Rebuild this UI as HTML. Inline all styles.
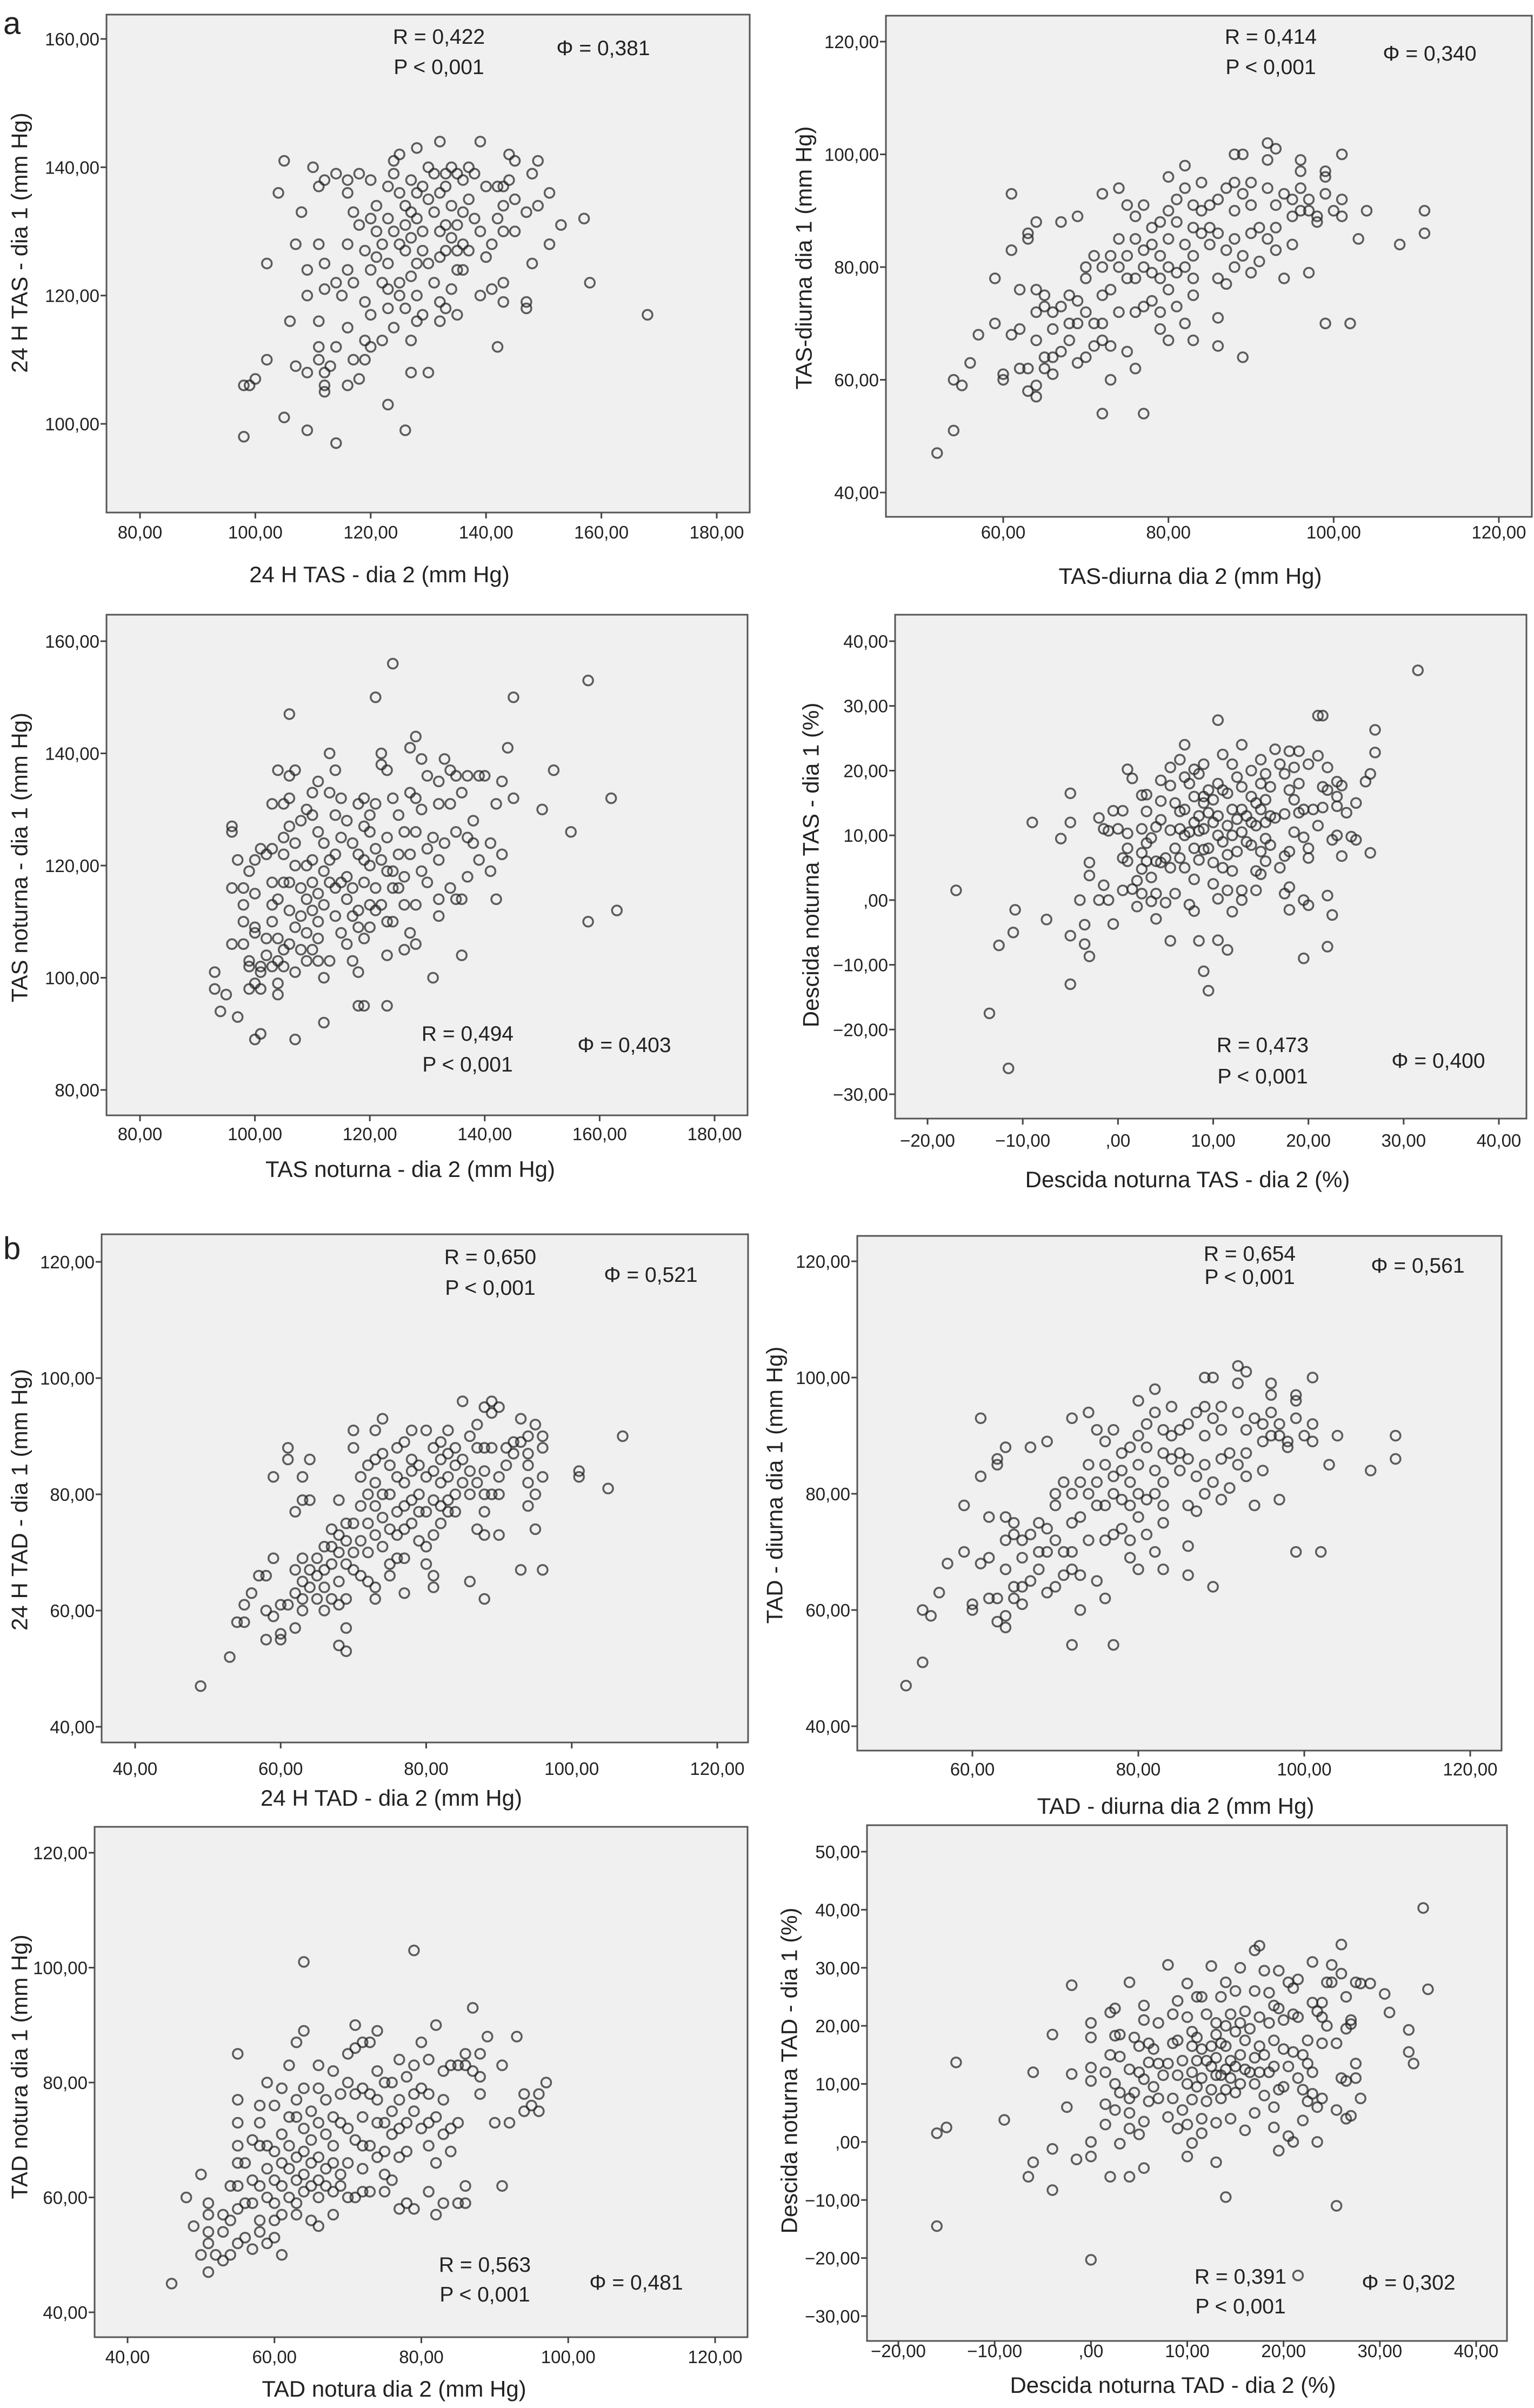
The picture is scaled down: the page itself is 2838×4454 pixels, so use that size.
<!DOCTYPE html>
<html><head><meta charset="utf-8"><style>
html,body{margin:0;padding:0;background:#fff}
svg{display:block}
text{font-family:"Liberation Sans",Arial,sans-serif;fill:#222}
</style></head><body>
<svg id="fig" width="2838" height="4454" viewBox="0 0 2838 4454" xmlns="http://www.w3.org/2000/svg">
<text x="6" y="63" font-size="58">a</text>
<text x="6" y="2329" font-size="58">b</text>
</svg>
<script>
const p1Points=[[98,98],[98,106],[99,106],[100,107],[102,110],[102,125],[104,136],[105,141],[105,101],[106,116],[107,109],[107,128],[108,133],[109,108],[109,124],[109,120],[109,99],[110,140],[111,137],[111,128],[111,116],[111,112],[111,110],[112,138],[112,125],[112,121],[112,108],[112,106],[112,105],[113,109],[114,139],[114,97],[114,112],[114,122],[115,120],[116,138],[116,136],[116,128],[116,124],[116,115],[116,106],[117,133],[117,110],[117,122],[118,107],[118,139],[118,131],[119,127],[119,113],[119,110],[119,119],[120,138],[120,132],[120,124],[120,117],[120,112],[121,130],[121,126],[121,134],[122,128],[122,122],[122,113],[123,137],[123,132],[123,125],[123,121],[123,103],[123,118],[124,141],[124,139],[124,130],[124,115],[125,142],[125,136],[125,128],[125,122],[125,120],[126,134],[126,131],[126,127],[126,118],[126,99],[127,138],[127,133],[127,129],[127,123],[127,113],[127,108],[128,143],[128,136],[128,132],[128,125],[128,120],[128,116],[129,137],[129,130],[129,127],[129,117],[130,135],[130,140],[130,125],[130,108],[131,139],[131,133],[131,122],[132,144],[132,136],[132,130],[132,126],[132,119],[132,116],[133,139],[133,137],[133,131],[133,127],[133,118],[134,140],[134,134],[134,129],[134,121],[135,139],[135,131],[135,127],[135,124],[135,117],[136,138],[136,133],[136,128],[136,124],[137,140],[137,135],[137,127],[138,139],[138,132],[139,144],[139,130],[139,120],[140,137],[140,126],[141,128],[141,121],[142,137],[142,132],[142,112],[143,137],[143,134],[143,130],[143,122],[143,119],[144,142],[144,138],[145,141],[145,135],[145,130],[147,133],[147,119],[147,118],[148,139],[148,125],[149,134],[149,141],[151,136],[151,128],[153,131],[157,132],[158,122],[168,117]];
const p2Points=[[52,47],[54,51],[54,60],[55,59],[56,63],[57,68],[59,70],[59,78],[60,60],[60,61],[61,68],[61,83],[61,93],[62,69],[62,76],[62,62],[63,62],[63,58],[63,85],[63,86],[64,59],[64,57],[64,88],[64,76],[64,72],[64,67],[65,75],[65,73],[65,64],[65,62],[66,61],[66,69],[66,72],[66,64],[67,65],[67,73],[67,88],[68,70],[68,75],[68,67],[69,89],[69,63],[69,74],[69,70],[70,80],[70,78],[70,72],[70,64],[71,82],[71,70],[71,66],[72,93],[72,80],[72,75],[72,70],[72,67],[72,54],[73,82],[73,76],[73,60],[73,66],[74,94],[74,85],[74,80],[74,72],[75,91],[75,82],[75,78],[75,65],[76,89],[76,85],[76,78],[76,72],[76,62],[77,91],[77,83],[77,80],[77,73],[77,54],[78,87],[78,84],[78,79],[78,74],[79,88],[79,82],[79,78],[79,72],[79,69],[80,96],[80,90],[80,85],[80,80],[80,76],[80,67],[81,92],[81,88],[81,79],[81,73],[82,98],[82,94],[82,84],[82,80],[82,70],[83,91],[83,87],[83,82],[83,78],[83,75],[83,67],[84,95],[84,90],[84,86],[85,91],[85,87],[85,84],[86,92],[86,86],[86,78],[86,71],[86,66],[87,94],[87,83],[87,77],[88,100],[88,95],[88,90],[88,85],[88,80],[89,100],[89,93],[89,64],[89,82],[90,95],[90,91],[90,86],[90,79],[91,87],[91,81],[92,102],[92,99],[92,94],[92,85],[93,101],[93,91],[93,87],[93,83],[94,93],[94,78],[95,92],[95,89],[95,84],[96,99],[96,97],[96,94],[96,90],[97,92],[97,90],[97,79],[98,89],[98,88],[99,97],[99,96],[99,93],[99,70],[100,90],[101,100],[101,92],[101,89],[102,70],[103,85],[104,90],[108,84],[111,90],[111,86]];
const p3Points=[[93,101],[93,98],[94,94],[95,97],[96,127],[96,126],[96,116],[96,106],[97,121],[97,93],[98,116],[98,113],[98,110],[98,106],[99,119],[99,103],[99,102],[99,98],[100,121],[100,115],[100,109],[100,108],[100,99],[100,89],[101,123],[101,102],[101,101],[101,98],[101,90],[102,122],[102,107],[102,104],[103,131],[103,123],[103,117],[103,113],[103,110],[103,102],[104,137],[104,114],[104,107],[104,103],[104,99],[104,97],[105,131],[105,125],[105,122],[105,117],[105,105],[105,102],[106,147],[106,136],[106,132],[106,127],[106,117],[106,112],[106,106],[107,137],[107,124],[107,120],[107,109],[107,101],[107,89],[108,128],[108,116],[108,111],[108,105],[109,130],[109,120],[109,114],[109,108],[109,103],[110,133],[110,129],[110,121],[110,117],[110,112],[110,105],[111,135],[111,126],[111,115],[111,110],[111,107],[111,103],[112,124],[112,119],[112,113],[112,100],[112,92],[113,140],[113,133],[113,121],[113,117],[113,103],[114,137],[114,129],[114,122],[114,116],[114,111],[115,132],[115,125],[115,117],[115,108],[116,128],[116,118],[116,114],[116,106],[117,124],[117,116],[117,111],[117,103],[118,131],[118,122],[118,112],[118,109],[118,101],[118,95],[119,132],[119,127],[119,121],[119,117],[119,107],[119,95],[120,129],[120,126],[120,120],[120,113],[120,109],[121,150],[121,131],[121,123],[121,116],[121,112],[122,140],[122,138],[122,121],[122,113],[123,137],[123,125],[123,119],[123,110],[123,104],[123,95],[124,156],[124,132],[124,119],[124,116],[124,110],[125,129],[125,122],[125,116],[126,126],[126,118],[126,113],[126,105],[127,141],[127,133],[127,122],[127,108],[128,143],[128,132],[128,126],[128,113],[128,106],[129,139],[129,130],[129,119],[130,136],[130,123],[130,117],[131,125],[131,100],[132,135],[132,131],[132,121],[132,114],[132,111],[133,139],[133,124],[134,137],[134,131],[134,116],[135,136],[135,126],[135,114],[136,133],[136,114],[136,104],[137,136],[137,125],[137,118],[138,128],[138,124],[139,136],[139,121],[140,136],[141,124],[141,119],[142,131],[142,114],[143,135],[143,122],[144,141],[145,150],[145,132],[150,130],[152,137],[155,126],[158,153],[158,110],[162,132],[163,112]];
const p4Points=[[-17,1.5],[-13.5,-17.5],[-12.5,-7],[-11.5,-26],[-11,-5],[-10.8,-1.5],[-9,12],[-7.5,-3],[-6,9.5],[-5,16.5],[-5,12],[-5,-5.5],[-5,-13],[-4,0],[-3.5,-3.8],[-3.5,-6.8],[-3,-8.7],[-3,5.8],[-3,3.8],[-2,12.7],[-2,0],[-1.5,11],[-1.5,2.3],[-1,10.7],[-1,0],[-0.5,-3.7],[-0.5,13.8],[0,11],[0.5,13.8],[0.5,6.5],[0.5,1.5],[1,20.2],[1,8],[1,6],[1,10.3],[1.5,1.7],[1.5,18.8],[2,3],[2,-1],[2.5,16.2],[2.5,11],[2.5,7.3],[2.5,4.8],[2.5,1],[3,16.3],[3,13.7],[3,8.8],[3,6],[3.5,9.6],[3.5,3.5],[3.5,-0.2],[4,11.3],[4,6],[4,1],[4,-2.9],[4.5,18.5],[4.5,15.3],[4.5,12.4],[4.5,5.8],[5,6.5],[5,-0.4],[5.5,20.5],[5.5,17.7],[5.5,10.8],[5.5,5],[5.5,-6.3],[6,15],[6,8],[6,1],[6.5,21.7],[6.5,13.7],[6.5,11],[6.5,6.5],[7,24],[7,19],[7,14],[7,10],[7,5],[7.5,18],[7.5,10.5],[7.5,-0.7],[8,20.2],[8,16],[8,12],[8,8],[8,3.2],[8,-1.7],[8.5,19.5],[8.5,13],[8.5,10.7],[8.5,6.2],[8.5,-6.3],[9,21],[9,16],[9,15],[9,11],[9,7.8],[9,-11],[9.5,17],[9.5,13.5],[9.5,8],[9.5,-14],[10,15.5],[10,12],[10,5.8],[10,2.5],[10.5,27.8],[10.5,18],[10.5,13],[10.5,10],[10.5,-6.2],[10.5,0.2],[11,22.5],[11,17],[11,9],[11,5],[11.5,16.5],[11.5,11.5],[11.5,7],[11.5,1.5],[11.5,-7.7],[12,21],[12,14],[12,10],[12,4.5],[12,-1.8],[12.5,19],[12.5,12.5],[12.5,7.5],[13,24],[13,17.5],[13,14],[13,10.5],[13,1.5],[13,0],[13.5,13],[13.5,9],[14,20],[14,16],[14,12],[14,8.5],[14.5,15],[14.5,11.5],[14.5,4.5],[14.5,1.5],[15,21.7],[15,18],[15,14],[15,7.5],[15,4],[15.5,19.5],[15.5,15.5],[15.5,12],[15.5,9.5],[15.5,6],[16,17.5],[16,13],[16,8.5],[16.5,23.3],[16.5,12.7],[17,5],[17,21],[17.5,19.5],[17.5,13.3],[17.5,6.8],[17.5,1],[18,23],[18,17],[18,7.5],[18,2],[18,-1.5],[18.5,20.5],[18.5,15.5],[18.5,10.5],[19,23],[19,18],[19,13.5],[19.5,14],[19.5,9.7],[19.5,0],[19.5,-9],[20,21],[20,8],[20,6.5],[20,-0.8],[20.5,14],[21,28.5],[21,22.3],[21,11.5],[21.5,28.5],[21.5,17.5],[21.5,14.3],[22,20.5],[22,17],[22,0.7],[22,-7.2],[22.5,9.3],[22.5,-2.3],[23,18.3],[23,14.5],[23,16],[23,10],[23.5,6.8],[23.5,17.7],[24,13.5],[24.5,9.8],[25,15],[25,9.3],[26,18.3],[26.5,19.5],[26.5,7.3],[27,26.3],[27,22.8],[31.5,35.5]];
const p5Points=[[49,47],[53,52],[54,58],[55,58],[55,61],[56,63],[57,66],[58,66],[58,60],[58,55],[59,59],[59,69],[59,83],[60,56],[60,55],[60,61],[61,88],[61,86],[61,61],[62,77],[62,67],[62,57],[62,63],[63,79],[63,83],[63,69],[63,65],[63,62],[63,60],[64,86],[64,79],[64,67],[64,64],[65,69],[65,66],[65,62],[66,71],[66,67],[66,64],[66,60],[67,74],[67,71],[67,68],[67,62],[68,79],[68,73],[68,70],[68,65],[68,61],[68,54],[69,75],[69,72],[69,68],[69,62],[69,57],[69,53],[70,91],[70,88],[70,75],[70,70],[70,67],[71,83],[71,78],[71,72],[71,66],[72,85],[72,80],[72,75],[72,70],[72,65],[73,91],[73,86],[73,82],[73,78],[73,73],[73,64],[73,62],[74,93],[74,87],[74,80],[74,76],[74,71],[75,85],[75,80],[75,74],[75,68],[75,66],[76,88],[76,83],[76,77],[76,73],[76,69],[77,89],[77,82],[77,78],[77,74],[77,69],[77,63],[78,91],[78,86],[78,84],[78,79],[78,75],[79,85],[79,80],[79,77],[79,72],[80,91],[80,83],[80,77],[80,71],[80,68],[81,88],[81,84],[81,79],[81,73],[81,66],[81,64],[82,89],[82,86],[82,82],[82,78],[82,75],[83,91],[83,87],[83,83],[83,79],[83,77],[84,88],[84,85],[84,80],[84,77],[85,96],[85,86],[85,82],[86,90],[86,84],[86,80],[86,65],[87,92],[87,88],[87,82],[87,74],[88,95],[88,88],[88,84],[88,80],[88,77],[88,73],[88,62],[89,96],[89,94],[89,88],[89,80],[90,95],[90,83],[90,80],[90,73],[91,88],[91,85],[92,89],[92,87],[93,93],[93,89],[93,67],[94,90],[94,87],[94,85],[94,82],[94,78],[95,92],[95,80],[95,74],[96,90],[96,88],[96,83],[96,67],[101,84],[101,83],[105,81],[107,90]];
const p6Points=p2Points.map(p=>[p[0],p[1]]);
const p7Points=[[46,45],[48,60],[49,55],[50,64],[50,50],[51,59],[51,57],[51,54],[51,52],[51,47],[52,50],[53,57],[53,54],[53,49],[54,62],[54,56],[54,50],[55,85],[55,77],[55,73],[55,69],[55,66],[55,62],[55,58],[55,52],[56,66],[56,59],[56,53],[57,70],[57,63],[57,59],[57,51],[58,76],[58,73],[58,69],[58,62],[58,56],[58,54],[59,80],[59,69],[59,65],[59,60],[59,52],[60,76],[60,68],[60,63],[60,59],[60,56],[60,53],[61,79],[61,71],[61,66],[61,62],[61,57],[61,50],[62,83],[62,74],[62,69],[62,65],[62,60],[63,87],[63,77],[63,74],[63,67],[63,63],[63,59],[63,57],[64,101],[64,89],[64,79],[64,72],[64,68],[64,64],[64,61],[65,75],[65,70],[65,66],[65,62],[65,56],[66,83],[66,79],[66,73],[66,67],[66,63],[66,60],[66,55],[67,77],[67,71],[67,65],[67,62],[68,82],[68,74],[68,69],[68,66],[68,61],[68,57],[69,78],[69,73],[69,64],[69,62],[70,85],[70,80],[70,72],[70,66],[70,60],[71,90],[71,86],[71,78],[71,70],[71,60],[72,87],[72,79],[72,74],[72,69],[72,65],[72,61],[73,87],[73,78],[73,69],[73,61],[74,89],[74,82],[74,77],[74,73],[74,67],[75,80],[75,73],[75,68],[75,64],[75,61],[76,80],[76,75],[76,71],[76,63],[77,84],[77,77],[77,72],[77,67],[77,58],[78,81],[78,73],[78,68],[78,59],[79,103],[79,83],[79,78],[79,75],[79,58],[80,87],[80,79],[80,72],[81,84],[81,78],[81,73],[81,69],[81,61],[82,90],[82,74],[82,66],[82,57],[83,82],[83,77],[83,71],[83,59],[84,83],[84,72],[84,68],[85,83],[85,73],[85,59],[86,85],[86,83],[86,62],[86,59],[87,93],[87,82],[88,85],[88,81],[88,78],[89,88],[90,73],[91,83],[91,62],[92,73],[93,88],[94,78],[94,75],[95,76],[96,78],[96,75],[97,80]];
const p8Points=[[-16,1.5],[-16,-14.5],[-15,2.5],[-14,13.7],[-9,3.8],[-6.5,-6],[-6,12],[-6,-3.5],[-4,18.5],[-4,-1.2],[-4,-8.3],[-2.5,6],[-2,27],[-2,11.7],[-1.5,-3],[0,20.5],[0,18],[0,12.8],[0,10.5],[0,0],[0,-2.5],[0,-20.3],[1.5,12],[1.5,3],[1.5,6.5],[2,22.3],[2,15],[2,-6],[2.5,23],[2.5,18.3],[2.5,10],[2.5,5.5],[3,18.5],[3,14.7],[3,8.5],[3,-0.3],[4,27.5],[4,12.5],[4,7.5],[4,5],[4,2.3],[4,-6],[4.5,18],[4.5,8.5],[5,16.5],[5,12],[5,1.3],[5.5,23.5],[5.5,21],[5.5,10.8],[5.5,3.5],[5.5,-4.5],[6,17],[6,13.7],[6,7],[6.5,16],[6.5,9.5],[7,20.5],[7,13.5],[7,7.5],[7.5,11.5],[8,30.5],[8,13.5],[8,4.3],[8.5,22],[8.5,17],[8.5,7.5],[9,24.3],[9,17.5],[9,11.5],[9,2.3],[9.5,14],[9.5,5.5],[10,27.3],[10,21.5],[10,10],[10,3],[10,-2.5],[10.5,19],[10.5,16.5],[10.5,12],[10.5,7.3],[10.5,-0.2],[11,25],[11,18],[11,14],[11,9.5],[11.5,25],[11.5,16],[11.5,11],[11.5,4],[11.5,1.5],[12,22],[12,14],[12,7],[12.5,30.3],[12.5,16.5],[12.5,13],[12.5,9],[13,20.5],[13,18.5],[13,14.5],[13,11.5],[13,3.3],[13,-3.5],[13.5,25],[13.5,17],[13.5,11.5],[13.5,7.5],[14,27.5],[14,20],[14,16.5],[14,12.5],[14,9],[14,-9.5],[14.5,22],[14.5,14],[14.5,11],[14.5,4],[15,26],[15,19],[15,13],[15,8.5],[15.5,30],[15.5,20.5],[15.5,15],[15.5,10],[16,22.5],[16,17.5],[16,12.5],[16,2],[16.5,19.5],[16.5,12],[17,33],[17,26],[17,14.5],[17,10],[17,5],[17.5,33.8],[17.5,21.5],[17.5,16.5],[17.5,12],[18,29.5],[18,15],[18,8],[18.5,25.7],[18.5,20.5],[18.5,12],[19,23.5],[19,17.5],[19,13],[19,6],[19,2.5],[19.5,29.5],[19.5,23],[19.5,9],[19.5,-1.5],[20,21],[20,16],[20,9.5],[20.5,27.5],[20.5,13],[20.5,1],[21,26.5],[21,22],[21,15.5],[21,0],[21.5,28],[21.5,21.5],[21.5,11],[21.5,-23],[22,15],[22,9],[22,3.7],[22.5,17.5],[22.5,13.5],[22.5,7],[23,31],[23,24],[23,12],[23,8.3],[23.5,22.5],[23.5,6],[23.5,0],[24,21.5],[24,17],[24,7.5],[24,24],[24.5,27.5],[24.5,20],[25,30.5],[25,27.5],[25.5,17],[25.5,5.5],[25.5,-11],[26,29],[26,11],[26,34],[26.5,25],[26.5,19.5],[26.5,10.5],[26.5,4],[27,21],[27,20.3],[27,4.5],[27.5,27.5],[27.5,13.5],[27.5,11],[28,27.3],[28,7.5],[29,27.3],[30.5,25.5],[31,22.3],[33,19.3],[33,15.5],[33.5,13.5],[34.5,40.3],[35,26.3]];

const ticks80to180=[80,100,120,140,160,180];
const ticks100to160=[100,120,140,160];
const ticks60to120=[60,80,100,120];
const ticks40to120=[40,60,80,100,120];
const ticks80to160=[80,100,120,140,160];
const ticksNeg20to40=[-20,-10,0,10,20,30,40];
const ticksNeg30to40=[-30,-20,-10,0,10,20,30,40];
const ticksNeg30to50=[-30,-20,-10,0,10,20,30,40,50];

const statsR=["R = 0,422","R = 0,414","R = 0,494","R = 0,473","R = 0,650","R = 0,654","R = 0,563","R = 0,391"];
const statsPhi=["Φ = 0,381","Φ = 0,340","Φ = 0,403","Φ = 0,400","Φ = 0,521","Φ = 0,561","Φ = 0,481","Φ = 0,302"];

const NS="http://www.w3.org/2000/svg";
const svg=document.getElementById('fig');
function mk(tag,attrs,parent){const e=document.createElementNS(NS,tag);for(const k in attrs)e.setAttribute(k,attrs[k]);(parent||svg).appendChild(e);return e;}
function fmt(v){if(v===0)return ",00";const s=Math.abs(v).toFixed(2).replace('.',',');return (v<0?"\u2212":"")+s;}

const panels=[
{id:'p1',pts:p1Points,box:[197,27,1387,948],xa:[80,259,180,1326],ya:[160,72,100,784],xt:ticks80to180,yt:ticks100to160,rx:812,ry:[81,137],fx:1116,fy:102,xl:"24 H TAS - dia 2 (mm Hg)",xlx:702,xly:1077,yl:"24 H TAS - dia 1 (mm Hg)",ylx:36,yly:449,tb:996},
{id:'p2',pts:p2Points,box:[1639,29,2834,956],xa:[60,1856,120,2773],ya:[120,77,40,911],xt:ticks60to120,yt:ticks40to120,rx:2351,ry:[81,137],fx:2645,fy:112,xl:"TAS-diurna dia 2 (mm Hg)",xlx:2202,xly:1080,yl:"TAS-diurna dia 1 (mm Hg)",ylx:1487,yly:477,tb:996},
{id:'p3',pts:p3Points,box:[197,1137,1383,2063],xa:[80,259,180,1322],ya:[160,1186,80,2016],xt:ticks80to180,yt:ticks80to160,rx:865,ry:[1925,1982],fx:1155,fy:1946,xl:"TAS noturna - dia 2 (mm Hg)",xlx:759,xly:2177,yl:"TAS noturna - dia 1 (mm Hg)",ylx:36,yly:1586,tb:2109},
{id:'p4',pts:p4Points,box:[1656,1137,2824,2069],xa:[-20,1716,40,2773],ya:[40,1186,-30,2024],xt:ticksNeg20to40,yt:ticksNeg30to40,rx:2336,ry:[1946,2004],fx:2661,fy:1975,xl:"Descida noturna TAS - dia 2 (%)",xlx:2197,xly:2196,yl:"Descida noturna TAS - dia 1 (%)",ylx:1500,yly:1600,tb:2121},
{id:'p5',pts:p5Points,box:[188,2283,1384,3223],xa:[40,250,120,1327],ya:[120,2334,40,3194],xt:ticks40to120,yt:ticks40to120,rx:907,ry:[2338,2395],fx:1204,fy:2371,xl:"24 H TAD - dia 2 (mm Hg)",xlx:724,xly:3340,yl:"24 H TAD - dia 1 (mm Hg)",ylx:36,yly:2774,tb:3283},
{id:'p6',pts:p6Points,box:[1586,2286,2778,3238],xa:[60,1799,120,2720],ya:[120,2333,40,3193],xt:ticks60to120,yt:ticks40to120,rx:2312,ry:[2332,2375],fx:2623,fy:2354,xl:"TAD - diurna dia 2 (mm Hg)",xlx:2175,xly:3355,yl:"TAD - diurna dia 1 (mm Hg)",ylx:1433,yly:2747,tb:3284},
{id:'p7',pts:p7Points,box:[175,3379,1383,4323],xa:[40,236,120,1323],ya:[120,3427,40,4277],xt:ticks40to120,yt:ticks40to120,rx:897,ry:[4202,4257],fx:1177,fy:4235,xl:"TAD notura dia 2 (mm Hg)",xlx:729,xly:4433,yl:"TAD notura dia 1 (mm Hg)",ylx:36,yly:3823,tb:4371},
{id:'p8',pts:p8Points,box:[1604,3376,2788,4330],xa:[-20,1662,40,2731],ya:[50,3425,-30,4284],xt:ticksNeg20to40,yt:ticksNeg30to50,rx:2295,ry:[4224,4279],fx:2606,fy:4235,xl:"Descida noturna TAD - dia 2 (%)",xlx:2170,xly:4426,yl:"Descida noturna TAD - dia 1 (%)",ylx:1460,yly:3830,tb:4360}
];

panels.forEach((P,i)=>{
  const g=mk('g',{});
  
  
  const [L,T,R,B]=P.box;
  const xs=v=>P.xa[1]+(v-P.xa[0])*(P.xa[3]-P.xa[1])/(P.xa[2]-P.xa[0]);
  const ys=v=>P.ya[1]+(v-P.ya[0])*(P.ya[3]-P.ya[1])/(P.ya[2]-P.ya[0]);
  const bg=mk('rect',{x:L,y:T,width:R-L,height:B-T,fill:'#f0f0f0',stroke:'#555','stroke-width':3},g);
  
  
  P.yt.forEach(v=>{
    const y=ys(v);
    const tk=mk('line',{x1:L-11,x2:L,y1:y,y2:y,stroke:'#444','stroke-width':3},g);
    
    
    const t=mk('text',{x:L-13,y:y+12,'font-size':33,'text-anchor':'end'},g);
    
    
    t.textContent=fmt(v);
  });
  P.xt.forEach(v=>{
    const x=xs(v);
    const tk=mk('line',{x1:x,x2:x,y1:B,y2:B+11,stroke:'#444','stroke-width':3},g);
    
    
    const t=mk('text',{x:x,y:P.tb,'font-size':33,'text-anchor':'middle'},g);
    
    
    t.textContent=fmt(v);
  });
  P.pts.forEach(p=>{
    const c=mk('circle',{cx:xs(p[0]),cy:ys(p[1]),r:9,fill:'none',stroke:'#222','stroke-width':3.5,'stroke-opacity':0.72},g);
    
    
  });
  const r1=mk('text',{x:P.rx,y:P.ry[0],'font-size':39,'text-anchor':'middle'},g);
  
  
  r1.textContent=statsR[i];
  const r2=mk('text',{x:P.rx,y:P.ry[1],'font-size':39,'text-anchor':'middle'},g);
  
  
  r2.textContent="P < 0,001";
  const f=mk('text',{x:P.fx,y:P.fy,'font-size':39,'text-anchor':'middle'},g);
  
  
  f.textContent=statsPhi[i];
  const xl=mk('text',{x:P.xlx,y:P.xly,'font-size':42,'text-anchor':'middle'},g);
  
  
  xl.textContent=P.xl;
  const yl=mk('text',{x:0,y:0,'font-size':42,'text-anchor':'middle','dominant-baseline':'central',transform:'translate('+P.ylx+','+P.yly+') rotate(-90)'},g);
  
  
  yl.textContent=P.yl;
});
</script>
</body></html>
